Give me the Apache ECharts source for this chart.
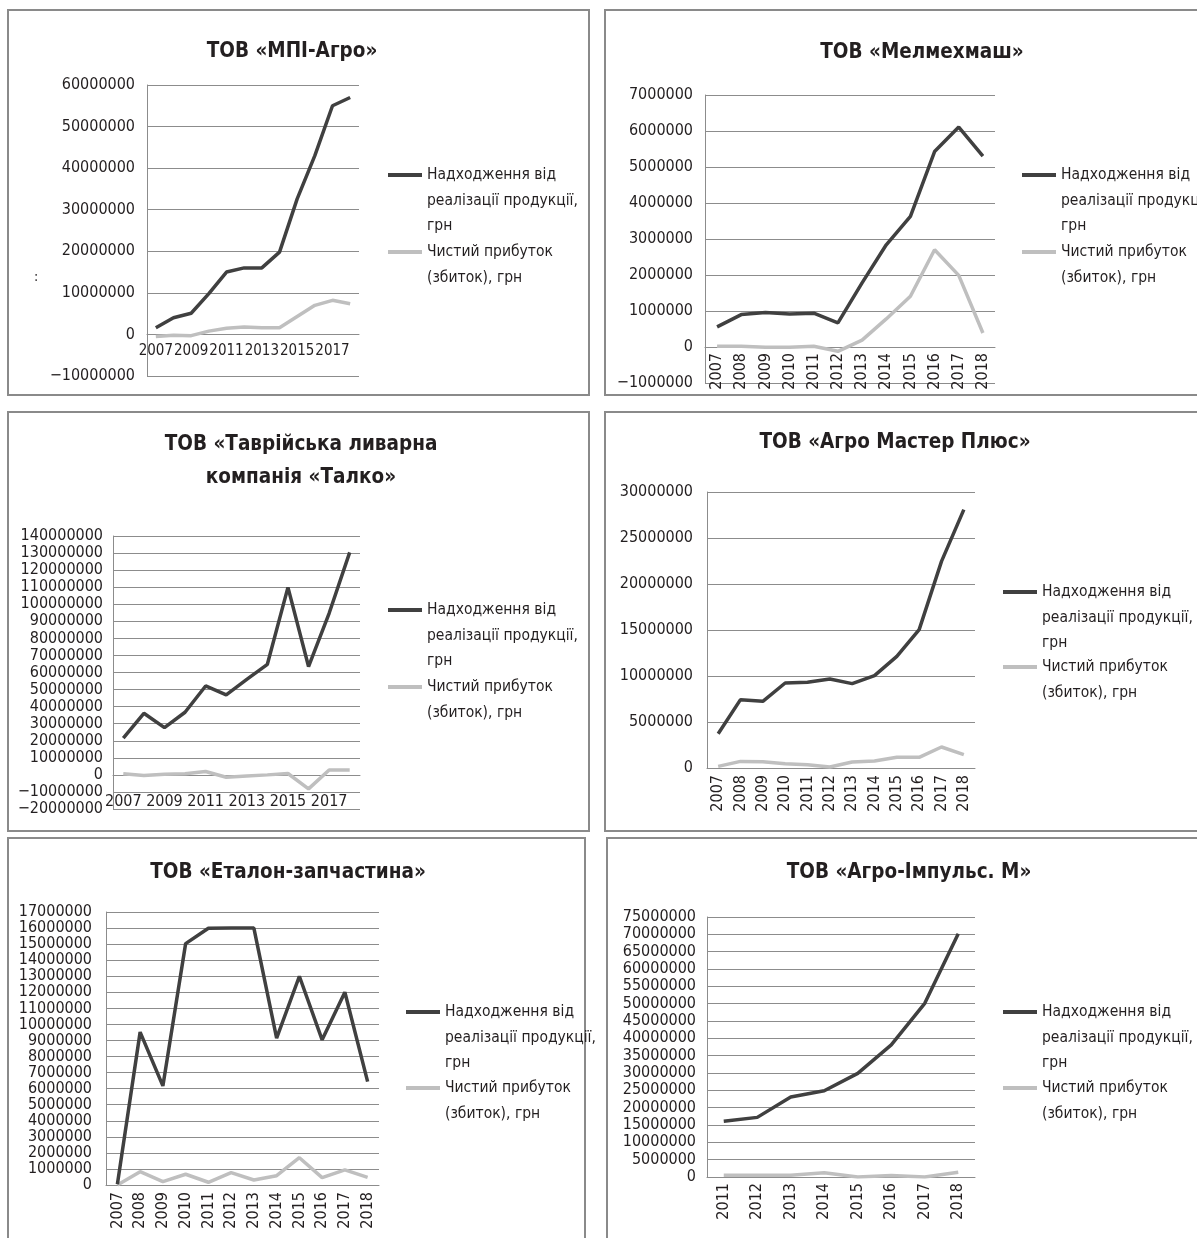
<!DOCTYPE html>
<html>
<head>
<meta charset="utf-8">
<script src="https://cdn.jsdelivr.net/npm/echarts@6/dist/echarts.min.js"></script>
<style>
  html, body { margin: 0; padding: 0; background: #ffffff; }
  #charts { width: 1197px; height: 1238px; }
</style>
</head>
<body>
<div id="charts"></div>
<script>
// роки
const years12 = ['2007', '2008', '2009', '2010', '2011', '2012', '2013', '2014', '2015', '2016', '2017', '2018'];
const years8 = ['2011', '2012', '2013', '2014', '2015', '2016', '2017', '2018'];

// ТОВ «МПІ-Агро»
const mpiRevenue = [1600000, 4000000, 5100000, 9800000, 15000000, 16000000, 16000000, 19800000, 32600000, 43000000, 55000000, 57000000];
const mpiProfit = [-500000, -200000, -300000, 800000, 1500000, 1800000, 1600000, 1600000, 4300000, 7000000, 8200000, 7400000];
// ТОВ «Мелмехмаш»
const melRevenue = [560000, 900000, 960000, 920000, 940000, 670000, 1780000, 2840000, 3630000, 5430000, 6110000, 5300000];
const melProfit = [20000, 20000, -10000, -10000, 20000, -120000, 190000, 780000, 1410000, 2700000, 1990000, 390000];
// ТОВ «Таврійська ливарна компанія «Талко»
const talkoRevenue = [21500000, 36100000, 27700000, 36700000, 52100000, 46900000, 56000000, 64800000, 109900000, 63500000, 94700000, 130400000];
const talkoProfit = [600000, -400000, 400000, 600000, 2000000, -1400000, -600000, 0, 800000, -8200000, 2900000, 2900000];
// ТОВ «Агро Мастер Плюс»
const masterRevenue = [3730000, 7430000, 7250000, 9240000, 9310000, 9670000, 9170000, 10040000, 12140000, 15040000, 22460000, 28080000];
const masterProfit = [180000, 720000, 690000, 470000, 360000, 110000, 650000, 760000, 1160000, 1160000, 2280000, 1450000];
// ТОВ «Еталон-запчастина»
const etalonRevenue = [50000, 9520000, 6170000, 15030000, 15990000, 16000000, 16000000, 9150000, 13000000, 9040000, 12000000, 6440000];
const etalonProfit = [0, 830000, 210000, 670000, 170000, 770000, 310000, 580000, 1700000, 460000, 940000, 480000];
// ТОВ «Агро-Імпульс. М»
const impulsRevenue = [16100000, 17200000, 23100000, 24900000, 29900000, 38100000, 50100000, 70200000];
const impulsProfit = [500000, 500000, 500000, 1200000, 0, 400000, 0, 1400000];

const revenueName = 'Надходження від реалізації продукції, грн';
const profitName = 'Чистий прибуток (збиток), грн';

const FONT = '"Liberation Sans Narrow", "DejaVu Sans Condensed", "Roboto Condensed", Roboto, sans-serif';
const DARK = '#404040';
const LIGHT = '#bfbfbf';
const GRIDC = '#8c8c8c';
const TEXT = '#231f20';
const LH = 25.5;

// xOff: зсув осі категорій до нульової лінії (вгору від низу сітки)
const panels = [
  { title: 'ТОВ «МПІ-Агро»', tx: 292, ty: 35.5, box: [8, 10, 581, 385],
    grid: { left: 147, top: 85, width: 212, height: 291 },
    min: -10000000, max: 60000000, step: 10000000, years: years12, rev: mpiRevenue, prof: mpiProfit,
    rotate: 0, xInterval: 1, xFont: 15, xMargin: 9, xOff: -41.6, yMargin: 12, lx: 388, l1: 175, l2: 252 },
  { title: 'ТОВ «Мелмехмаш»', tx: 922, ty: 36.5, box: [605, 10, 600, 385],
    grid: { left: 705, top: 95, width: 290, height: 288 },
    min: -1000000, max: 7000000, step: 1000000, years: years12, rev: melRevenue, prof: melProfit,
    rotate: 90, xInterval: 0, xFont: 16, xMargin: 6, xOff: -36, yMargin: 12, lx: 1022, l1: 175, l2: 252 },
  { title: 'ТОВ «Таврійська ливарна\nкомпанія «Талко»', tx: 301, ty: 428.5, box: [8, 412, 581, 419],
    grid: { left: 113, top: 536, width: 247, height: 273 },
    min: -20000000, max: 140000000, step: 10000000, years: years12, rev: talkoRevenue, prof: talkoProfit,
    rotate: 0, xInterval: 1, xFont: 16, xMargin: 19, xOff: -34.1, yMargin: 10, lx: 388, l1: 610, l2: 687 },
  { title: 'ТОВ «Агро Мастер Плюс»', tx: 895, ty: 426.5, box: [605, 412, 600, 419],
    grid: { left: 707, top: 492, width: 268, height: 276 },
    min: 0, max: 30000000, step: 5000000, years: years12, rev: masterRevenue, prof: masterProfit,
    rotate: 90, xInterval: 0, xFont: 16, xMargin: 7, xOff: 0, yMargin: 14, lx: 1003, l1: 592, l2: 667 },
  { title: 'ТОВ «Еталон-запчастина»', tx: 288, ty: 856.5, box: [8, 838, 577, 410],
    grid: { left: 106, top: 912, width: 273, height: 273 },
    min: 0, max: 17000000, step: 1000000, years: years12, rev: etalonRevenue, prof: etalonProfit,
    rotate: 90, xInterval: 0, xFont: 16, xMargin: 7, xOff: 0, yMargin: 14, lx: 406, l1: 1012, l2: 1088 },
  { title: 'ТОВ «Агро-Імпульс. М»', tx: 909, ty: 856.5, box: [607, 838, 600, 410],
    grid: { left: 707, top: 917, width: 268, height: 260 },
    min: 0, max: 75000000, step: 5000000, years: years8, rev: impulsRevenue, prof: impulsProfit,
    rotate: 90, xInterval: 0, xFont: 16, xMargin: 6, xOff: 0, yMargin: 11, lx: 1003, l1: 1012, l2: 1088 }
];

const option = {
  animation: false,
  textStyle: { fontFamily: FONT },
  title: [], grid: [], xAxis: [], yAxis: [], series: [], legend: [], graphic: []
};

panels.forEach(function (p, i) {
  option.graphic.push({
    type: 'rect', silent: true,
    shape: { x: p.box[0], y: p.box[1], width: p.box[2], height: p.box[3] },
    style: { fill: 'none', stroke: '#8a8a8a', lineWidth: 2 }
  });
  option.title.push({
    text: p.title, left: p.tx, top: p.ty, textAlign: 'center', padding: 0,
    textStyle: { fontFamily: FONT, fontSize: 20.5, fontWeight: 'bold', color: TEXT, lineHeight: 33 }
  });
  option.grid.push(Object.assign({ containLabel: false }, p.grid));
  option.xAxis.push({
    type: 'category', gridIndex: i, data: p.years, boundaryGap: true,
    offset: p.xOff,
    axisLine: { show: true, onZero: false, lineStyle: { color: GRIDC, width: 1 } },
    axisTick: { show: false },
    axisLabel: { interval: p.xInterval, rotate: p.rotate, margin: p.xMargin, showMinLabel: true,
      fontFamily: FONT, fontSize: p.xFont, color: TEXT }
  });
  option.yAxis.push({
    type: 'value', gridIndex: i, min: p.min, max: p.max, interval: p.step,
    axisLine: { show: true, lineStyle: { color: GRIDC, width: 1 } },
    axisTick: { show: false },
    splitLine: { show: true, lineStyle: { color: GRIDC, width: 1 } },
    axisLabel: { margin: p.yMargin, fontFamily: FONT, fontSize: 16, color: TEXT,
      showMinLabel: true, showMaxLabel: true,
      formatter: function (v) { return v < 0 ? '\u2212' + String(-v) : String(v); } }
  });
  option.series.push({
    name: revenueName, type: 'line', xAxisIndex: i, yAxisIndex: i, data: p.rev,
    showSymbol: false, symbol: 'none', lineStyle: { color: DARK, width: 3.5 }, itemStyle: { color: DARK }, z: 3
  });
  option.series.push({
    name: profitName, type: 'line', xAxisIndex: i, yAxisIndex: i, data: p.prof,
    showSymbol: false, symbol: 'none', lineStyle: { color: LIGHT, width: 3.5 }, itemStyle: { color: LIGHT }, z: 2
  });
  // легенда: значок на рівні першого рядка тексту
  option.legend.push({
    data: [revenueName], orient: 'vertical', left: p.lx, top: p.l1 - 2.5 * LH, padding: 0,
    icon: 'rect', itemWidth: 34, itemHeight: 4, selectedMode: false,
    formatter: function () { return '\n\nНадходження від\nреалізації продукції,\nгрн'; },
    textStyle: { fontFamily: FONT, fontSize: 15.5, color: TEXT, lineHeight: LH }
  });
  option.legend.push({
    data: [profitName], orient: 'vertical', left: p.lx, top: p.l2 - 1.5 * LH, padding: 0,
    icon: 'rect', itemWidth: 34, itemHeight: 4, selectedMode: false,
    formatter: function () { return '\nЧистий прибуток\n(збиток), грн'; },
    textStyle: { fontFamily: FONT, fontSize: 15.5, color: TEXT, lineHeight: LH }
  });
});

option.graphic.push({
  type: 'text', silent: true, left: 34, top: 270,
  style: { text: ':', font: '14px ' + FONT, fill: TEXT }
});

let myChart = echarts.init(document.getElementById('charts'), null, { renderer: 'canvas' });
myChart.setOption(option);
</script>
</body>
</html>
